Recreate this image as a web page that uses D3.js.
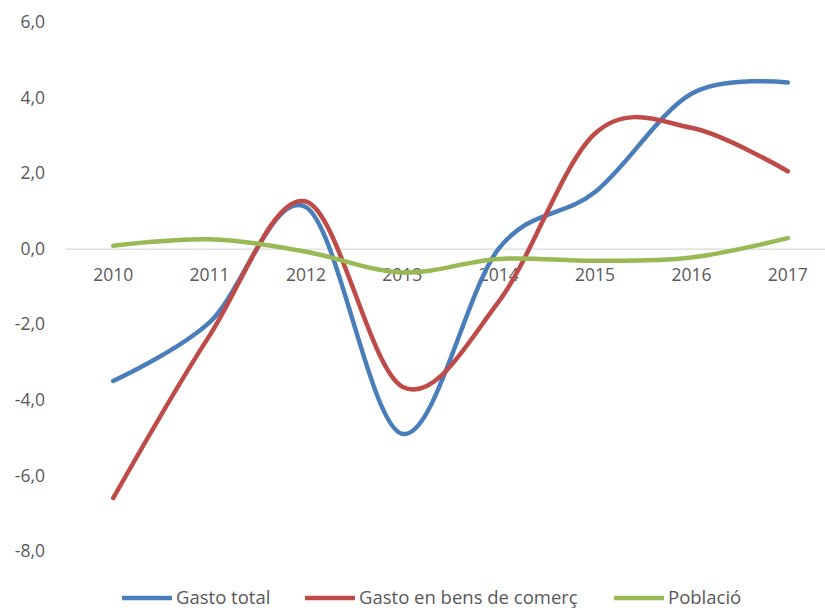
<!DOCTYPE html>
<html>
<head>
<meta charset="utf-8">
<script src="https://cdn.jsdelivr.net/npm/d3@7"></script>
<style>
  body { margin: 0; background: #fff; }
  text { font-family: "Open Sans", sans-serif; fill: #595959; }
</style>
</head>
<body>
<div id="chart"></div>
<script>
// years on the x axis
var years = ["2010", "2011", "2012", "2013", "2014", "2015", "2016", "2017"];

// series
var gastoTotal = [-3.5, -1.95, 1.1, -4.9, 0.0, 1.5, 4.1, 4.4];
var gastoBens  = [-6.6, -2.3, 1.25, -3.65, -1.4, 3.05, 3.2, 2.05];
var poblacio   = [0.08, 0.25, -0.08, -0.63, -0.27, -0.32, -0.23, 0.28];

var seriesNames  = ["Gasto total", "Gasto en bens de comerç", "Població"];
var seriesColors = ["#4a7ebb", "#be4b48", "#98b954"];

var yTicks = [-8, -6, -4, -2, 0, 2, 4, 6];

var width = 825, height = 610;

var svg = d3.select("#chart").append("svg")
    .attr("width", width)
    .attr("height", height);

var x = d3.scaleBand()
    .domain(years)
    .range([65, 836]);

var y = d3.scaleLinear()
    .domain([-8, 6])
    .range([551, 22]);

// comma decimals, plain hyphen for negatives
var locale = d3.formatLocale({decimal: ",", thousands: ".", grouping: [3], currency: ["", " €"], minus: "-"});
var fmt = locale.format(".1f");

// y labels
svg.append("g")
    .attr("transform", "translate(45,0)")
    .call(d3.axisLeft(y).tickValues(yTicks).tickSize(0).tickPadding(0).tickFormat(fmt))
    .call(function(g) { g.select(".domain").remove(); })
    .selectAll("text")
    .style("font-size", "17.5px")
    .attr("fill", "#595959");

// zero line with the year labels under it
var xAxis = svg.append("g")
    .attr("transform", "translate(0," + y(0) + ")")
    .call(d3.axisBottom(x).tickSize(0).tickPadding(20));
xAxis.select(".domain").attr("stroke", "#d9d9d9").attr("stroke-width", 1.3);
xAxis.selectAll("text")
    .style("font-size", "17.5px")
    .attr("fill", "#595959");

var line = d3.line()
    .x(function(d, i) { return x(years[i]) + x.bandwidth() / 2; })
    .y(function(d) { return y(d); })
    .curve(d3.curveCardinal.tension(0));

var allSeries = [gastoTotal, gastoBens, poblacio];

svg.selectAll(".serie")
    .data(allSeries)
    .enter().append("path")
    .attr("class", "serie")
    .attr("d", line)
    .attr("fill", "none")
    .attr("stroke", function(d, i) { return seriesColors[i]; })
    .attr("stroke-width", 4.5)
    .attr("stroke-linecap", "round");

// legend
var legendX = [122, 305, 614];
var legend = svg.selectAll(".legend")
    .data(seriesNames)
    .enter().append("g")
    .attr("class", "legend")
    .attr("transform", function(d, i) { return "translate(" + legendX[i] + ",598)"; });

legend.append("line")
    .attr("x1", 0).attr("x2", 50)
    .attr("stroke", function(d, i) { return seriesColors[i]; })
    .attr("stroke-width", 4.5);

legend.append("text")
    .attr("x", 54)
    .attr("y", 6)
    .style("font-size", "18.5px")
    .text(function(d) { return d; });
</script>
</body>
</html>
